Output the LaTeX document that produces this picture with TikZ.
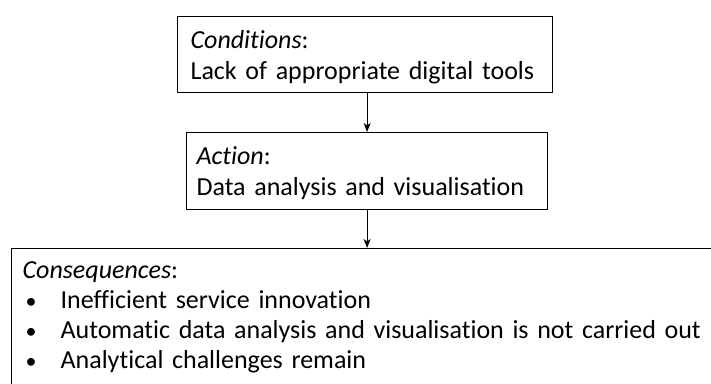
\documentclass[tikz,border=0pt]{standalone}
\usepackage{fontspec}
\setmainfont[Ligatures=NoCommon]{Carlito}
\usetikzlibrary{arrows.meta}
\newcommand\bul{\hspace*{3pt}\makebox[35pt][l]{\fontsize{22}{22}\selectfont •}}
\begin{document}
\begin{tikzpicture}[x=1pt,y=-1pt]
                        \tikzstyle{box}=[draw, line width=1.2pt, rectangle, anchor=north west, inner ysep=0pt, align=left, font=\fontsize{26}{31}\selectfont]
                        \tikzstyle{arr}=[line width=1.2pt, -{Stealth[length=9pt,width=7pt,inset=2.5pt]}]
                        \useasboundingbox (0,0) rectangle (711,383);
                        \node[box, inner xsep=13pt, text width=349pt] (cond) at (177,16)
                            {\rule{0pt}{32pt}\textit{Conditions}:\\Lack of appropriate digital tools\rule[-13pt]{0pt}{13pt}};
                        \node[box, inner xsep=10pt, text width=341pt] (act) at (186,132)
                            {\rule{0pt}{32pt}\textit{Action}:\\Data analysis and visualisation\rule[-14pt]{0pt}{14pt}};
                        \node[box, inner xsep=11pt, text width=697pt, font=\fontsize{26}{30}\selectfont] (cons) at (11,248)
                            {\rule{0pt}{30pt}\textit{Consequences}:\\
                             \bul Inefficient service innovation\\
                             \bul Automatic data analysis and visualisation is not carried out\\
                             \bul Analytical challenges remain\rule[-30pt]{0pt}{30pt}};
                        \draw[arr] (act.north |- cond.south) -- (act.north);
                        \draw[arr] (act.south) -- (act.south |- cons.north);
                    \end{tikzpicture}
\end{document}
